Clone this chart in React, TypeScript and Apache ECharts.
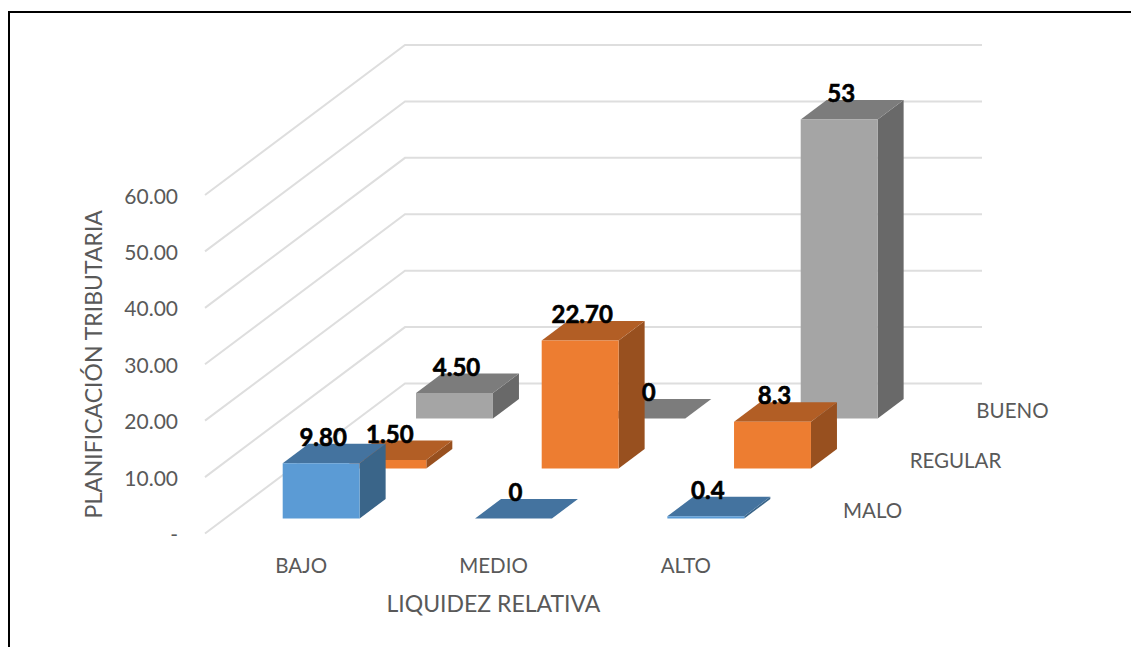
import React, { useEffect, useRef } from "react";
import * as echarts from "echarts";

const categories = ["BAJO", "MEDIO", "ALTO"];
const depthNames = ["MALO", "REGULAR", "BUENO"];
const maloValues = [9.8, 0, 0.4];
const regularValues = [1.5, 22.7, 8.3];
const buenoValues = [4.5, 0, 53];
const maloLabels = ["9.80", "0", "0.4"];
const regularLabels = ["1.50", "22.70", "8.3"];
const buenoLabels = ["4.50", "0", "53"];
const yTicks = [0, 10, 20, 30, 40, 50, 60];

const FONT = "Lato, Carlito, Calibri, sans-serif";
const palette = [
  { front: "#5b9bd5", top: "#44739f", side: "#3a6589" },
  { front: "#ed7d31", top: "#b25e25", side: "#98501f" },
  { front: "#a5a5a5", top: "#7c7c7c", side: "#696969" },
];

// oblique projection of the floor depth (0 = front edge, 1 = back wall)
const DEPTH_X = 200;
const DEPTH_Y = 150;
const rowZ = (row: number) => 0.1 + row / 3;
const BAR_DEPTH = 0.13;
const BAR_RATIO = 0.4;

function barRenderer(row: number) {
  return (_p: any, api: any) => {
    const idx = api.value(0);
    const val = api.value(1);
    const base = api.coord([idx, 0]);
    const top = api.coord([idx, val]);
    const w = api.size([1, 0])[0] * BAR_RATIO;
    const z = rowZ(row);
    const x0 = base[0] - w / 2 + z * DEPTH_X;
    const x1 = x0 + w;
    const yb = base[1] - z * DEPTH_Y;
    const yt = top[1] - z * DEPTH_Y;
    const dx = BAR_DEPTH * DEPTH_X;
    const dy = BAR_DEPTH * DEPTH_Y;
    const c = palette[row];
    return {
      type: "group",
      children: [
        { type: "polygon", shape: { points: [[x1, yb], [x1 + dx, yb - dy], [x1 + dx, yt - dy], [x1, yt]] }, style: { fill: c.side } },
        { type: "polygon", shape: { points: [[x0, yt], [x1, yt], [x1 + dx, yt - dy], [x0 + dx, yt - dy]] }, style: { fill: c.top } },
        { type: "polygon", shape: { points: [[x0, yb], [x1, yb], [x1, yt], [x0, yt]] }, style: { fill: c.front } },
      ],
    };
  };
}

function labelRenderer(row: number, labels: string[]) {
  return (_p: any, api: any) => {
    const idx = api.value(0);
    const top = api.coord([idx, api.value(1)]);
    const z = rowZ(row);
    return {
      type: "text",
      style: {
        text: labels[idx],
        x: top[0] + z * DEPTH_X + 2,
        y: top[1] - z * DEPTH_Y - 27,
        align: "center",
        verticalAlign: "middle",
        fill: "#000000",
        stroke: "#000000",
        lineWidth: 0.6,
        font: `bold 24px ${FONT}`,
      },
    };
  };
}

const wallRenderer = (p: any, api: any) => {
  const pt = api.coord([0, api.value(1)]);
  const cs = p.coordSys;
  const left = cs.x;
  const right = cs.x + cs.width;
  return {
    type: "polyline",
    shape: {
      points: [
        [left, pt[1]],
        [left + DEPTH_X, pt[1] - DEPTH_Y],
        [right + DEPTH_X, pt[1] - DEPTH_Y],
      ],
    },
    style: { stroke: "#dedede", lineWidth: 2, fill: "none" },
  };
};

const depthLabelRenderer = (p: any, api: any) => {
  const row = api.value(0);
  const cs = p.coordSys;
  const z = rowZ(row) + BAR_DEPTH / 2;
  return {
    type: "text",
    style: {
      text: depthNames[row],
      x: cs.x + cs.width + z * DEPTH_X + 28,
      y: cs.y + cs.height - z * DEPTH_Y + 1,
      align: "left",
      verticalAlign: "middle",
      fill: "#595959",
      font: `20.5px ${FONT}`,
    },
  };
};

export default function App() {
  const ref = useRef<HTMLDivElement>(null);
  useEffect(() => {
    if (!ref.current) return;
    const chart = echarts.init(ref.current, undefined, { renderer: "svg" });
    const rows = [
      { values: maloValues, labels: maloLabels },
      { values: regularValues, labels: regularLabels },
      { values: buenoValues, labels: buenoLabels },
    ];
    const series: any[] = [
      {
        type: "custom",
        name: "walls",
        renderItem: wallRenderer,
        data: yTicks.map((t) => [0, t]),
        encode: { x: 0, y: 1 },
        silent: true,
      },
    ];
    [2, 1, 0].forEach((row) => {
      series.push({
        type: "custom",
        name: depthNames[row],
        renderItem: barRenderer(row),
        data: rows[row].values.map((v, i) => [i, v]),
        encode: { x: 0, y: 1 },
      });
    });
    [2, 1, 0].forEach((row) => {
      series.push({
        type: "custom",
        name: depthNames[row] + " labels",
        renderItem: labelRenderer(row, rows[row].labels),
        data: rows[row].values.map((v, i) => [i, v]),
        encode: { x: 0, y: 1 },
      });
    });
    series.push({
      type: "custom",
      name: "depth axis",
      renderItem: depthLabelRenderer,
      data: depthNames.map((_, i) => [i, 0]),
      encode: { x: 0, y: 1 },
    });
    chart.setOption({
      animation: false,
      backgroundColor: "#ffffff",
      textStyle: { fontFamily: FONT },
      grid: { left: 205, top: 195, width: 577, height: 338.5, containLabel: false },
      xAxis: {
        type: "category",
        data: categories,
        axisLine: { show: false },
        axisTick: { show: false },
        splitLine: { show: false },
        axisLabel: { color: "#595959", fontSize: 20.5, fontFamily: FONT, margin: 21 },
        name: "LIQUIDEZ RELATIVA",
        nameLocation: "middle",
        nameGap: 58,
        nameTextStyle: { color: "#595959", fontSize: 23, fontFamily: FONT },
      },
      yAxis: {
        type: "value",
        min: 0,
        max: 60,
        interval: 10,
        axisLine: { show: false },
        axisTick: { show: false },
        splitLine: { show: false },
        axisLabel: {
          color: "#595959",
          fontSize: 21,
          fontFamily: FONT,
          margin: 27,
          formatter: (v: number) => (v === 0 ? "-" : v.toFixed(2)),
        },
        name: "PLANIFICACIÓN TRIBUTARIA",
        nameLocation: "middle",
        nameGap: 101,
        nameRotate: 90,
        nameTextStyle: { color: "#595959", fontSize: 23, fontFamily: FONT },
      },
      graphic: [
        {
          type: "polyline",
          shape: { points: [[9, 647], [9, 12], [1131, 12]] },
          style: { stroke: "#000000", lineWidth: 2, fill: "none" },
          silent: true,
        },
      ],
      series,
    });
    return () => chart.dispose();
  }, []);
  return <div ref={ref} style={{ position: "absolute", left: 0, top: 0, width: 1131, height: 647 }} />;
}
